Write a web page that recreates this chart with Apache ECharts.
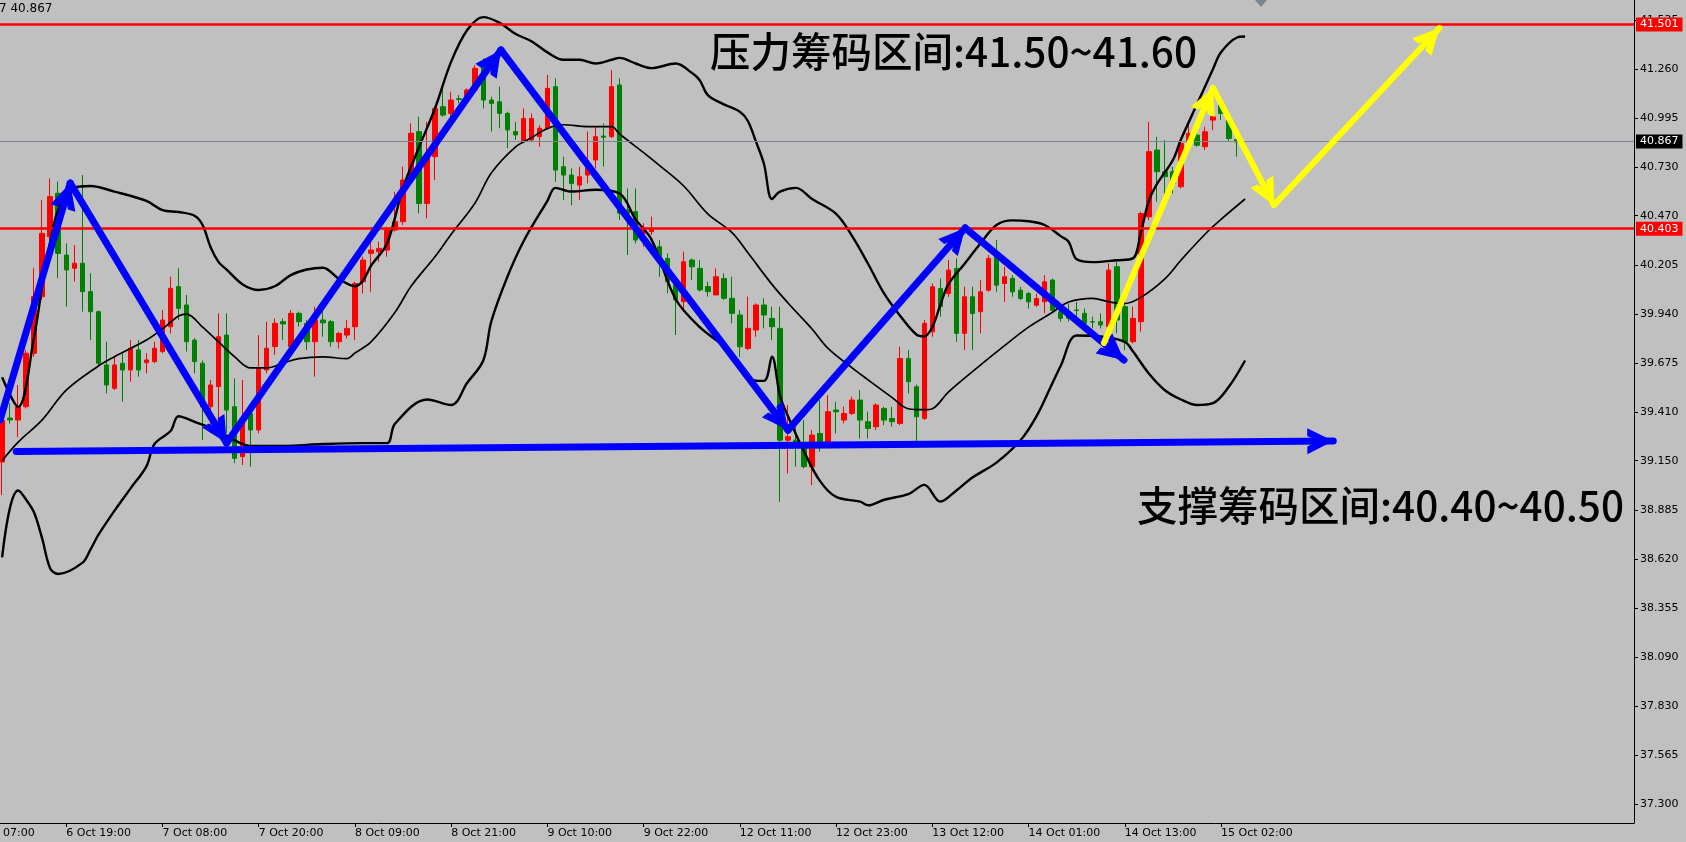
<!DOCTYPE html>
<html><head><meta charset="utf-8">
<script src="https://cdn.jsdelivr.net/npm/echarts@6/dist/echarts.min.js"></script>
<style>html,body{margin:0;padding:0;background:#c0c0c0;overflow:hidden;width:1686px;height:842px;position:relative}
#chart{position:absolute;left:-42px;top:0;width:1728px;height:842px}</style>
</head><body><div id="chart"></div>
<script>
// ---- data ----
const tickLabels = ['6 Oct 07:00','6 Oct 19:00','7 Oct 08:00','7 Oct 20:00','8 Oct 09:00','8 Oct 21:00','9 Oct 10:00','9 Oct 22:00','12 Oct 11:00','12 Oct 23:00','13 Oct 12:00','14 Oct 01:00','14 Oct 13:00','15 Oct 02:00'];
const tickBars = [-4, 8, 20, 32, 44, 56, 68, 80, 92, 104, 116, 128, 140, 152];
const yTicks = [37.300,37.565,37.830,38.090,38.355,38.620,38.885,39.150,39.410,39.675,39.940,40.205,40.470,40.730,40.995,41.260,41.525];
// [open, high, low, close], one per hourly bar
const ohlc = [
[39.143,39.42,38.965,39.369],[39.38,39.46,39.35,39.37],[39.369,39.558,39.277,39.439],[39.441,39.747,39.432,39.729],
[39.729,40.187,39.71,40.034],[40.034,40.555,40.016,40.375],[40.357,40.671,40.34,40.573],[40.591,40.654,40.133,40.267],
[40.258,40.321,39.98,40.178],[40.187,40.312,40.115,40.214],[40.214,40.689,39.953,40.061],[40.061,40.160,39.800,39.953],
[39.953,39.96,39.657,39.675],[39.666,39.791,39.513,39.558],[39.540,39.711,39.531,39.666],[39.675,39.729,39.468,39.639],
[39.639,39.800,39.576,39.756],[39.747,39.80,39.603,39.639],[39.678,39.729,39.621,39.693],[39.684,39.791,39.675,39.756],
[39.738,39.962,39.729,39.908],[39.872,40.142,39.836,40.079],[40.088,40.187,39.908,39.971],[39.989,40.043,39.738,39.791],
[39.800,39.81,39.621,39.684],[39.675,39.69,39.262,39.441],[39.441,39.585,39.298,39.558],[39.549,39.944,39.316,39.818],
[39.827,39.944,39.298,39.423],[39.441,39.594,39.136,39.163],[39.172,39.585,39.127,39.369],[39.405,39.42,39.118,39.316],
[39.316,39.827,39.298,39.648],[39.639,39.899,39.621,39.756],[39.765,39.917,39.720,39.890],[39.899,39.917,39.800,39.887],
[39.765,39.962,39.756,39.944],[39.944,39.953,39.872,39.899],[39.890,39.908,39.747,39.791],[39.791,39.980,39.603,39.908],
[39.908,39.962,39.818,39.893],[39.899,39.908,39.764,39.791],[39.791,39.845,39.755,39.836],[39.827,39.908,39.809,39.863],
[39.872,40.114,39.80,40.105],[40.114,40.249,40.051,40.231],[40.267,40.339,40.060,40.285],[40.276,40.330,40.222,40.294],
[40.285,40.411,40.249,40.393],[40.393,40.599,40.384,40.438],[40.438,40.734,40.420,40.662],[40.662,40.967,40.653,40.914],
[40.923,41.003,40.483,40.536],[40.536,40.976,40.456,40.788],[40.788,41.057,40.662,41.048],[41.057,41.183,41.003,41.012],
[41.021,41.138,41.003,41.093],[41.100,41.12,41.075,41.096],[41.102,41.156,41.093,41.147],[41.147,41.282,41.129,41.264],
[41.273,41.318,41.048,41.093],[41.093,41.111,40.923,41.075],[41.084,41.165,40.941,41.021],[41.021,41.03,40.833,40.932],
[40.923,40.976,40.878,40.905],[40.869,41.048,40.860,40.994],[40.878,41.021,40.869,40.994],[40.896,40.958,40.842,40.941],
[40.941,41.228,40.932,41.156],[41.165,41.21,40.653,40.716],[40.734,40.788,40.554,40.689],[40.689,40.725,40.527,40.644],
[40.635,40.734,40.554,40.680],[40.689,40.923,40.644,40.725],[40.770,40.950,40.725,40.896],[40.899,40.967,40.734,40.893],
[40.896,41.255,40.887,41.165],[41.174,41.21,40.447,40.483],[40.501,40.617,40.258,40.483],[40.492,40.617,40.321,40.339],
[40.375,40.429,40.303,40.402],[40.384,40.465,40.366,40.402],[40.303,40.339,40.141,40.240],[40.240,40.267,40.052,40.114],
[40.123,40.141,39.827,40.016],[40.007,40.276,39.962,40.222],[40.231,40.24,40.123,40.195],[40.186,40.231,40.061,40.070],
[40.088,40.114,40.034,40.061],[40.043,40.186,40.043,40.141],[40.132,40.159,40.016,40.025],[40.025,40.141,39.890,39.944],
[39.935,39.962,39.710,39.764],[39.755,40.034,39.746,39.863],[39.854,39.998,39.818,39.989],[39.989,40.025,39.863,39.935],
[39.917,39.980,39.800,39.872],[39.863,39.980,38.929,39.261],[39.261,39.450,39.082,39.279],[39.261,39.369,39.118,39.225],
[39.234,39.369,39.109,39.118],[39.118,39.315,39.019,39.288],[39.297,39.477,39.199,39.252],[39.252,39.504,39.243,39.414],
[39.423,39.468,39.297,39.414],[39.369,39.441,39.351,39.405],[39.405,39.495,39.396,39.477],[39.477,39.531,39.270,39.369],
[39.360,39.414,39.270,39.324],[39.333,39.459,39.315,39.450],[39.432,39.441,39.342,39.369],[39.378,39.441,39.333,39.360],
[39.351,39.764,39.342,39.701],[39.701,39.746,39.513,39.576],[39.548,39.56,39.252,39.387],[39.378,39.908,39.369,39.890],
[39.845,40.105,39.818,40.087],[40.078,40.132,39.926,39.980],[40.051,40.231,40.033,40.177],[40.186,40.240,39.791,39.836],
[39.836,40.087,39.746,40.033],[40.033,40.087,39.746,39.943],[39.953,40.123,39.836,40.060],[40.069,40.258,40.060,40.240],
[40.258,40.339,40.060,40.096],[40.105,40.195,40.006,40.141],[40.132,40.150,40.033,40.060],[40.069,40.087,40.015,40.024],
[40.051,40.06,39.970,40.006],[39.988,40.051,39.979,40.024],[40.006,40.150,39.944,40.114],[40.123,40.132,39.953,39.961],
[39.953,39.997,39.899,39.917],[39.944,39.997,39.899,39.917],[39.962,40.006,39.899,39.960],[39.944,39.971,39.863,39.890],
[39.899,39.926,39.863,39.897],[39.899,39.944,39.863,39.881],[39.872,40.213,39.863,40.177],[40.195,40.222,39.836,39.908],
[39.980,40.006,39.746,39.791],[39.791,39.980,39.782,39.917],[39.899,40.491,39.845,40.482],[40.464,40.976,40.446,40.815],
[40.824,40.895,40.545,40.707],[40.707,40.877,40.590,40.680],[40.707,40.734,40.590,40.644],[40.626,40.877,40.617,40.860],
[40.860,40.967,40.850,40.913],[40.904,40.967,40.842,40.850],[40.842,40.949,40.824,40.922],[40.985,41.039,40.931,41.003],
[41.066,41.093,40.985,41.021],[40.985,41.012,40.868,40.886],[40.880,40.886,40.788,40.867]
];
// Bollinger bands read at sample bars: [bar, value]
const upperBand = [[0,39.60],[2,39.44],[4,39.82],[5,40.09],[6,40.33],[7,40.50],[9,40.62],[11,40.63],[14,40.60],[18,40.55],[20,40.50],[22,40.49],[24,40.47],[25,40.42],[26,40.30],[27,40.22],[28,40.18],[30,40.10],[32,40.07],[34,40.09],[36,40.15],[38,40.18],[40,40.19],[42,40.13],[44,40.09],[45,40.12],[46,40.20],[48,40.32],[50,40.62],[52,40.84],[54,41.05],[56,41.30],[58,41.47],[60,41.54],[62,41.51],[64,41.45],[66,41.41],[68,41.35],[70,41.31],[72,41.31],[74,41.29],[76,41.31],[77,41.32],[79,41.29],[81,41.265],[84,41.29],[86,41.24],[87,41.20],[88,41.12],[90,41.07],[92,41.03],[93,40.98],[94,40.87],[95,40.75],[96,40.56],[97,40.60],[99,40.62],[101,40.56],[104,40.48],[106,40.36],[108,40.21],[110,40.05],[112,39.93],[114,39.83],[115,39.82],[116,39.87],[117,39.99],[118,40.10],[120,40.21],[122,40.32],[124,40.42],[126,40.445],[128,40.44],[130,40.42],[132,40.36],[133,40.33],[134,40.235],[136,40.22],[139,40.23],[141,40.24],[142,40.38],[143,40.55],[144,40.64],[146,40.77],[147,40.88],[149,41.07],[151,41.26],[152,41.35],[154,41.43],[155,41.435]];
const middleBand = [[0,39.15],[2,39.25],[5,39.37],[8,39.53],[12,39.66],[14,39.71],[18,39.80],[20,39.86],[22,39.93],[23,39.94],[25,39.87],[27,39.79],[29,39.71],[31,39.65],[33,39.65],[35,39.675],[37,39.70],[40,39.71],[43,39.70],[44,39.73],[46,39.79],[49,39.95],[51,40.09],[54,40.25],[56,40.37],[59,40.54],[61,40.70],[64,40.84],[66,40.89],[68,40.94],[70,40.96],[73,40.95],[76,40.95],[77,40.91],[80,40.81],[82,40.74],[85,40.63],[88,40.48],[91,40.38],[93,40.27],[96,40.10],[98,40.00],[101,39.86],[103,39.755],[106,39.65],[108,39.585],[111,39.49],[113,39.43],[115,39.425],[116,39.43],[118,39.52],[121,39.63],[125,39.77],[128,39.87],[131,39.95],[133,40.005],[136,40.025],[138,40.006],[140,39.997],[142,40.03],[145,40.13],[147,40.23],[150,40.37],[152,40.45],[155,40.56]];
const lowerBand = [[0,38.63],[1,38.90],[2,38.99],[3,38.94],[4,38.87],[5,38.73],[6,38.57],[7,38.54],[10,38.60],[11,38.67],[12,38.75],[14,38.88],[16,39.00],[18,39.12],[19,39.24],[21,39.31],[22,39.39],[24,39.36],[27,39.31],[29,39.26],[31,39.23],[35,39.23],[40,39.24],[45,39.245],[48,39.245],[49,39.35],[53,39.48],[56,39.45],[58,39.57],[60,39.69],[61,39.90],[63,40.14],[65,40.33],[68,40.55],[69,40.62],[71,40.60],[74,40.61],[77,40.59],[79,40.45],[81,40.34],[84,40.02],[87,39.87],[91,39.73],[93,39.59],[95,39.58],[96,39.71],[97,39.50],[98,39.39],[100,39.20],[102,39.04],[104,38.955],[107,38.93],[108,38.91],[110,38.94],[113,38.97],[115,39.02],[117,38.93],[119,38.99],[121,39.06],[124,39.14],[127,39.26],[129,39.39],[131,39.57],[132,39.66],[134,39.825],[137,39.82],[140,39.79],[141,39.74],[143,39.62],[145,39.53],[147,39.48],[149,39.45],[151,39.46],[153,39.55],[155,39.69]];
const levelLines = [41.501, 40.403];
const lastPrice = 40.867;
// hand-drawn trend arrows: [[bar, price], [bar, price]]
const blueArrows = [
  [[-0.25,39.37],[8.5,40.646]],
  [[8.5,40.646],[28,39.245]],
  [[28,39.245],[62.2,41.363]],
  [[62.2,41.363],[98,39.315]],
  [[98,39.315],[120.1,40.404]],
  [[120.1,40.404],[139.9,39.692]],
  [[1.75,39.20],[166,39.256]]
];
const yellowArrows = [
  [[137.4,39.784],[151,41.158]],
  [[151,41.158],[158.6,40.527]],
  [[158.6,40.527],[179.25,41.481]]
];
const headerText = '7 40.867';
const resistanceText = '压力筹码区间:41.50~41.60';
const supportText = '支撑筹码区间:40.40~40.50';

// ---- build ----
const FIRST_BAR = -5, LAST_BAR = 203;
const SHIFT = 42; // the canvas starts 42px left of the page so the first tick label is clipped like the original
const slots = [];
for (let b = FIRST_BAR; b <= LAST_BAR; b++) slots.push(String(b));
const labelByBar = {};
tickBars.forEach((b, i) => { labelByBar[b] = tickLabels[i]; });
const candleData = slots.map(s => {
  const d = ohlc[+s];
  return d ? [d[0], d[3], d[2], d[1]] : '-';
});
const isTick = (idx) => labelByBar[idx + FIRST_BAR] !== undefined;

const chevron = 'path://M10,-20 L10.01,-20 L10,-19.99 Z M0,20 L10,0 L20,20 L14,20 L10,12 L6,20 Z';
function arrowItems(list, color, width) {
  return list.map(a => [
    { coord: a[0], symbol: 'none', lineStyle: { color: color, width: width, type: 'solid', cap: 'round' } },
    { coord: a[1], symbol: chevron, symbolSize: [26, 52] }
  ]);
}
const font = 'DejaVu Sans';
const levelLabel = (v, bg) => ({ show: true, position: 'end', distance: 2, formatter: () => v.toFixed(3),
  backgroundColor: bg, color: '#ffffff', fontFamily: font, fontSize: 11, padding: [2, 4, 1, 4] });

const chart = echarts.init(document.getElementById('chart'), null, { renderer: 'canvas' });
chart.setOption({
  animation: false,
  backgroundColor: '#c0c0c0',
  grid: { left: 0, right: 52, top: 0, bottom: 19, containLabel: false },
  xAxis: [{
    type: 'category', data: slots, boundaryGap: true,
    axisLine: { show: true, onZero: false, lineStyle: { color: '#000', width: 1 } },
    axisTick: { show: true, alignWithLabel: true, interval: isTick, length: 4, lineStyle: { color: '#000' } },
    axisLabel: { interval: isTick, formatter: (v) => labelByBar[+v] || '', align: 'left', color: '#000',
      fontFamily: font, fontSize: 11, margin: 5 },
    splitLine: { show: false }
  }, {
    type: 'value', min: FIRST_BAR - 0.5, max: LAST_BAR + 0.5, show: false
  }],
  yAxis: {
    type: 'value', position: 'right', min: 37.1985, max: 41.632,
    axisLine: { show: true, onZero: false, lineStyle: { color: '#000' } },
    axisTick: { show: true, customValues: yTicks, length: 4, lineStyle: { color: '#000' } },
    axisLabel: { customValues: yTicks, formatter: v => v.toFixed(3), color: '#000', fontFamily: font, fontSize: 11, margin: 6 },
    splitLine: { show: false }
  },
  series: [
    { type: 'candlestick', data: candleData, barWidth: 5, z: 2, silent: true,
      itemStyle: { color: '#ff0000', color0: '#008000', borderColor: '#ff0000', borderColor0: '#008000', borderWidth: 1 } },
    { type: 'line', xAxisIndex: 1, data: upperBand, showSymbol: false, smooth: 0.35, z: 3, silent: true,
      lineStyle: { color: '#000', width: 2.4 } },
    { type: 'line', xAxisIndex: 1, data: middleBand, showSymbol: false, smooth: 0.35, z: 3, silent: true,
      lineStyle: { color: '#000', width: 1.7 } },
    { type: 'line', xAxisIndex: 1, data: lowerBand, showSymbol: false, smooth: 0.35, z: 3, silent: true,
      lineStyle: { color: '#000', width: 2.4 } },
    { type: 'line', xAxisIndex: 1, data: [], z: 4, silent: true,
      markLine: { silent: true, symbol: ['none', 'none'], animation: false,
        data: [
          { yAxis: levelLines[0], lineStyle: { color: '#ff0000', width: 2.5, type: 'solid' }, label: levelLabel(levelLines[0], '#ff0000') },
          { yAxis: levelLines[1], lineStyle: { color: '#ff0000', width: 2.5, type: 'solid' }, label: levelLabel(levelLines[1], '#ff0000') },
          { yAxis: lastPrice, lineStyle: { color: '#7a8594', width: 1, type: 'solid' }, label: levelLabel(lastPrice, '#000000') }
        ] } },
    { type: 'line', xAxisIndex: 1, data: [], z: 6, silent: true,
      markLine: { silent: true, animation: false, label: { show: false }, emphasis: { disabled: true },
        data: arrowItems(blueArrows, '#0000ff', 7).concat(arrowItems(yellowArrows, '#ffff00', 6)) } }
  ],
  graphic: [
    { type: 'text', x: SHIFT - 1, y: 3, style: { text: headerText, fill: '#000', font: '12px "DejaVu Sans"' }, z: 10 },
    { type: 'text', x: SHIFT + 710, y: 52, style: { text: resistanceText, fill: '#000', font: '500 40.5px "Noto Sans CJK SC"', verticalAlign: 'middle' }, z: 10 },
    { type: 'text', x: SHIFT + 1137, y: 506, style: { text: supportText, fill: '#000', font: '500 40.5px "Noto Sans CJK SC"', verticalAlign: 'middle' }, z: 10 },
    { type: 'polygon', shape: { points: [[SHIFT + 1255, 0], [SHIFT + 1267, 0], [SHIFT + 1261, 7]] }, style: { fill: '#7a8594' }, z: 10 }
  ]
});
</script></body></html>
